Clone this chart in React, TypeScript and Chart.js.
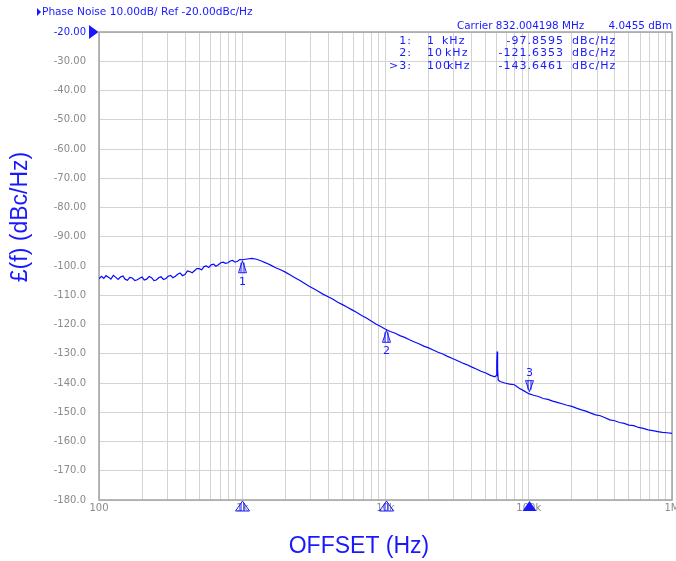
import React, { useEffect, useRef } from "react";
import { Chart, registerables } from "chart.js";

Chart.register(...registerables);

// ---- data ----
const offsetHz = [
  100, 104, 108, 112, 117, 121, 126, 131, 136, 141, 147, 152, 158, 164, 171, 178, 185, 192, 200, 207,
  215, 224, 233, 242, 251, 261, 271, 282, 293, 304, 316, 328, 341, 354, 368, 383, 398, 414, 430, 447,
  464, 482, 501, 521, 541, 562, 584, 607, 631, 655, 681, 708, 736, 764, 794, 825, 858, 891, 926, 962,
  1000, 1080, 1170, 1260, 1360, 1470, 1580, 1710, 1850, 2000, 2150, 2330, 2510, 2710, 2930, 3160, 3410, 3680, 3980, 4300, 4640, 5010, 5410, 5840, 6310, 6810, 7360, 7940, 8580, 9260,
  10000, 10800, 11700, 12600, 13600, 14700, 15800, 17100, 18500, 20000, 21500, 23300, 25100, 27100, 29300, 31600, 34100, 36800, 39800, 43000, 46400, 50100, 54100, 58000,
  59200, 59800, 60200, 60600, 61200, 63100, 68100, 73600, 79400, 85800, 92600,
  100000, 108000, 117000, 126000, 136000, 147000, 158000, 171000, 185000, 200000, 215000, 233000, 251000, 271000, 293000, 316000, 341000, 368000, 398000, 430000, 464000, 501000, 541000, 584000, 631000, 681000, 736000, 794000, 858000, 926000,
  1000000,
];

const phaseNoise = [
  -104.4, -103.5, -104.2, -103.3, -103.9, -104.5, -103.2, -103.9, -104.6, -103.8, -103.4, -104.5, -104.9, -103.9, -104.1, -105.0, -104.7, -104.2, -103.8, -104.8,
  -104.5, -103.6, -104.0, -105.0, -104.8, -104.0, -103.7, -104.6, -104.3, -103.5, -103.2, -104.0, -103.5, -102.8, -102.4, -103.3, -102.9, -101.7, -101.9, -102.3,
  -101.6, -100.9, -100.9, -101.3, -100.2, -100.0, -100.5, -99.6, -99.4, -100.1, -99.6, -98.9, -98.7, -99.1, -98.9, -98.3, -98.1, -98.7, -98.4, -97.8,
  -97.86, -97.6, -97.4, -97.7, -98.3, -99.0, -99.7, -100.6, -101.3, -102.1, -103.0, -104.0, -104.9, -105.9, -106.9, -107.8, -108.7, -109.7, -110.5, -111.4, -112.4, -113.2, -114.1, -115.0, -115.9, -116.9, -117.8, -118.8, -119.8, -120.7,
  -121.64, -122.4, -123.0, -123.8, -124.4, -125.2, -125.9, -126.6, -127.4, -128.0, -128.7, -129.5, -130.1, -130.9, -131.6, -132.3, -133.1, -133.7, -134.5, -135.2, -136.0, -136.6, -137.4, -137.9,
  -137.5, -133.0, -129.2, -135.0, -139.0, -139.5, -140.0, -140.4, -140.6, -141.8, -142.7,
  -143.65, -144.2, -144.6, -145.3, -145.6, -146.2, -146.6, -147.1, -147.6, -148.0, -148.6, -149.2, -149.6, -150.3, -150.9, -151.2, -151.9, -152.6, -152.9, -153.5, -153.8, -154.4, -154.6, -155.2, -155.5, -156.0, -156.3, -156.6, -156.9, -157.0,
  -157.2,
];

const yTickValues = [-20, -30, -40, -50, -60, -70, -80, -90, -100, -110, -120, -130, -140, -150, -160, -170, -180];
const xTickValues = [
  100, 200, 300, 400, 500, 600, 700, 800, 900,
  1000, 2000, 3000, 4000, 5000, 6000, 7000, 8000, 9000,
  10000, 20000, 30000, 40000, 50000, 60000, 70000, 80000, 90000,
  100000, 200000, 300000, 400000, 500000, 600000, 700000, 800000, 900000,
  1000000,
];
const xTickLabelValues = [100, 1000, 10000, 100000, 1000000];
const xTickLabelTexts = ["100", "1k", "10k", "100k", "1M"];

const markerIds = ["1", "2", "3"];
const markerRowLabels = ["1:", "2:", ">3:"];
const markerHz = [1000, 10000, 100000];
const markerFreqNum = ["1", "10", "100"];
const markerDb = [-97.8595, -121.6353, -143.6461];
const markerDbText = ["-97.8595", "-121.6353", "-143.6461"];
const activeMarker = 2;

const refLevel = -20;
const headerText = "Phase Noise 10.00dB/ Ref -20.00dBc/Hz";
const carrierText = "Carrier 832.004198 MHz";
const carrierPower = "4.0455 dBm";
const xTitle = "OFFSET (Hz)";
const yTitle = "£(f) (dBc/Hz)";

const BLUE = "rgb(25,25,255)";
const TRACE = "rgb(10,10,255)";
const GREY_TXT = "#8a8a8a";

function triangleUp(ctx: CanvasRenderingContext2D, x: number, yTop: number, h: number, hw: number, filled: boolean) {
  ctx.beginPath();
  ctx.moveTo(x, yTop);
  ctx.lineTo(x - hw, yTop + h);
  ctx.lineTo(x + hw, yTop + h);
  ctx.closePath();
  if (filled) {
    ctx.fill();
  } else {
    ctx.stroke();
    ctx.beginPath();
    ctx.moveTo(x - 1.5, yTop + 2);
    ctx.lineTo(x - 1.5, yTop + h);
    ctx.moveTo(x + 1.5, yTop + 2);
    ctx.lineTo(x + 1.5, yTop + h);
    ctx.stroke();
  }
}

function triangleDown(ctx: CanvasRenderingContext2D, x: number, yBottom: number, h: number, hw: number) {
  ctx.beginPath();
  ctx.moveTo(x, yBottom);
  ctx.lineTo(x - hw, yBottom - h);
  ctx.lineTo(x + hw, yBottom - h);
  ctx.closePath();
  ctx.stroke();
  ctx.beginPath();
  ctx.moveTo(x - 1.5, yBottom - 2);
  ctx.lineTo(x - 1.5, yBottom - h);
  ctx.moveTo(x + 1.5, yBottom - 2);
  ctx.lineTo(x + 1.5, yBottom - h);
  ctx.stroke();
}

const overlayPlugin = {
  id: "analyzerOverlay",
  beforeDatasetsDraw(chart: any) {
    const { ctx, chartArea } = chart;
    ctx.save();
    ctx.strokeStyle = "#a2a2a2";
    ctx.lineWidth = 1.5;
    ctx.strokeRect(chartArea.left, chartArea.top, chartArea.right - chartArea.left, chartArea.bottom - chartArea.top);
    ctx.restore();
  },
  afterDraw(chart: any) {
    const { ctx, chartArea, scales } = chart;
    const xs = scales.x;
    const ys = scales.y;
    ctx.save();

    // header
    ctx.fillStyle = BLUE;
    ctx.beginPath();
    ctx.moveTo(37, 8);
    ctx.lineTo(37, 16);
    ctx.lineTo(41, 12);
    ctx.closePath();
    ctx.fill();
    ctx.font = "10.6px 'DejaVu Sans'";
    ctx.textBaseline = "middle";
    ctx.textAlign = "left";
    ctx.fillText(headerText, 42, 12);

    // carrier line
    ctx.font = "10.4px 'DejaVu Sans'";
    ctx.fillText(carrierText, 457, 26);
    ctx.textAlign = "right";
    ctx.fillText(carrierPower, 672, 26);

    // ref level triangle
    const yRef = ys.getPixelForValue(refLevel);
    ctx.beginPath();
    ctx.moveTo(89, yRef - 7);
    ctx.lineTo(89, yRef + 7);
    ctx.lineTo(chartArea.left - 0.5, yRef);
    ctx.closePath();
    ctx.fill();

    // marker table
    ctx.font = "11px 'DejaVu Sans'";
    (ctx as any).letterSpacing = "1px";
    const rowY = [41, 53.5, 66];
    for (let i = 0; i < markerIds.length; i++) {
      const y = rowY[i];
      ctx.textAlign = "right";
      ctx.fillText(markerRowLabels[i], 412, y);
      ctx.textAlign = "left";
      ctx.fillText(markerFreqNum[i], 427, y);
      ctx.fillText("kHz", 442 + (i === 0 ? 0 : i === 1 ? 3 : 5), y);
      ctx.textAlign = "right";
      ctx.fillText(markerDbText[i], 564, y);
      ctx.textAlign = "left";
      ctx.fillText("dBc/Hz", 572, y);
    }
    (ctx as any).letterSpacing = "0px";

    // markers on trace
    ctx.strokeStyle = BLUE;
    ctx.fillStyle = BLUE;
    ctx.lineWidth = 1;
    ctx.font = "11px 'DejaVu Sans'";
    ctx.textAlign = "center";
    for (let i = 0; i < markerIds.length; i++) {
      const px = Math.round(xs.getPixelForValue(markerHz[i])) + 0.5;
      const py = ys.getPixelForValue(markerDb[i]);
      if (i === activeMarker) {
        triangleDown(ctx, px, py - 2, 11, 4);
        ctx.fillText(markerIds[i], px, py - 21);
      } else {
        triangleUp(ctx, px, py + 1, 12, 4, false);
        ctx.fillText(markerIds[i], px, py + 22);
      }
      // axis marker
      triangleUp(ctx, px, chartArea.bottom + 1, 10, 7, i === activeMarker);
    }

    // axis titles
    ctx.fillStyle = BLUE;
    ctx.font = "23px 'Liberation Sans'";
    ctx.textAlign = "center";
    ctx.textBaseline = "alphabetic";
    ctx.fillText(xTitle, 359, 553);
    ctx.save();
    ctx.translate(27, 217);
    ctx.rotate(-Math.PI / 2);
    ctx.fillText(yTitle, 0, 0);
    ctx.restore();

    ctx.restore();
  },
};

function formatY(v: number): string {
  return Math.abs(v) < 100 ? v.toFixed(2) : v.toFixed(1);
}

export default function App() {
  const canvasRef = useRef<HTMLCanvasElement | null>(null);

  useEffect(() => {
    document.body.style.margin = "0";
    const canvas = canvasRef.current;
    if (!canvas) return;
    const chart = new Chart(canvas, {
      type: "line",
      data: {
        datasets: [
          {
            data: offsetHz.map((f, i) => ({ x: f, y: phaseNoise[i] })),
            borderColor: TRACE,
            borderWidth: 1.2,
            pointRadius: 0,
            tension: 0,
            fill: false,
          },
        ],
      },
      options: {
        responsive: false,
        animation: false,
        events: [],
        layout: { padding: { top: 32, right: 4, left: 0, bottom: 0 } },
        plugins: { legend: { display: false }, tooltip: { enabled: false } },
        scales: {
          x: {
            type: "logarithmic",
            min: 100,
            max: 1000000,
            afterBuildTicks: (s: any) => {
              s.ticks = xTickValues.map((v) => ({ value: v }));
            },
            afterFit: (s: any) => {
              s.height = 61;
              s.paddingLeft = 0;
              s.paddingRight = 0;
            },
            ticks: {
              autoSkip: false,
              maxRotation: 0,
              minRotation: 0,
              padding: 2,
              color: GREY_TXT,
              font: { family: "DejaVu Sans", size: 10 },
              callback: (v: any) => {
                const k = xTickLabelValues.indexOf(Number(v));
                return k >= 0 ? xTickLabelTexts[k] : "";
              },
            },
            grid: { color: "#d3d3d3", lineWidth: 1, drawTicks: false },
            border: { display: false },
          },
          y: {
            type: "linear",
            min: -180,
            max: -20,
            afterBuildTicks: (s: any) => {
              s.ticks = yTickValues.map((v) => ({ value: v }));
            },
            afterFit: (s: any) => {
              s.width = 99;
              s.paddingTop = 0;
              s.paddingBottom = 0;
            },
            ticks: {
              autoSkip: false,
              padding: 13,
              color: (c: any) => (c.tick && c.tick.value === refLevel ? BLUE : GREY_TXT),
              font: { family: "DejaVu Sans", size: 10 },
              callback: (v: any) => formatY(Number(v)),
            },
            grid: { color: "#d3d3d3", lineWidth: 1, drawTicks: false },
            border: { display: false },
          },
        },
      },
      plugins: [overlayPlugin],
    } as any);
    return () => chart.destroy();
  }, []);

  return (
    <div style={{ position: "absolute", left: 0, top: 0, width: 676, height: 561, background: "#fff" }}>
      <canvas ref={canvasRef} width={676} height={561} style={{ display: "block" }} />
    </div>
  );
}
